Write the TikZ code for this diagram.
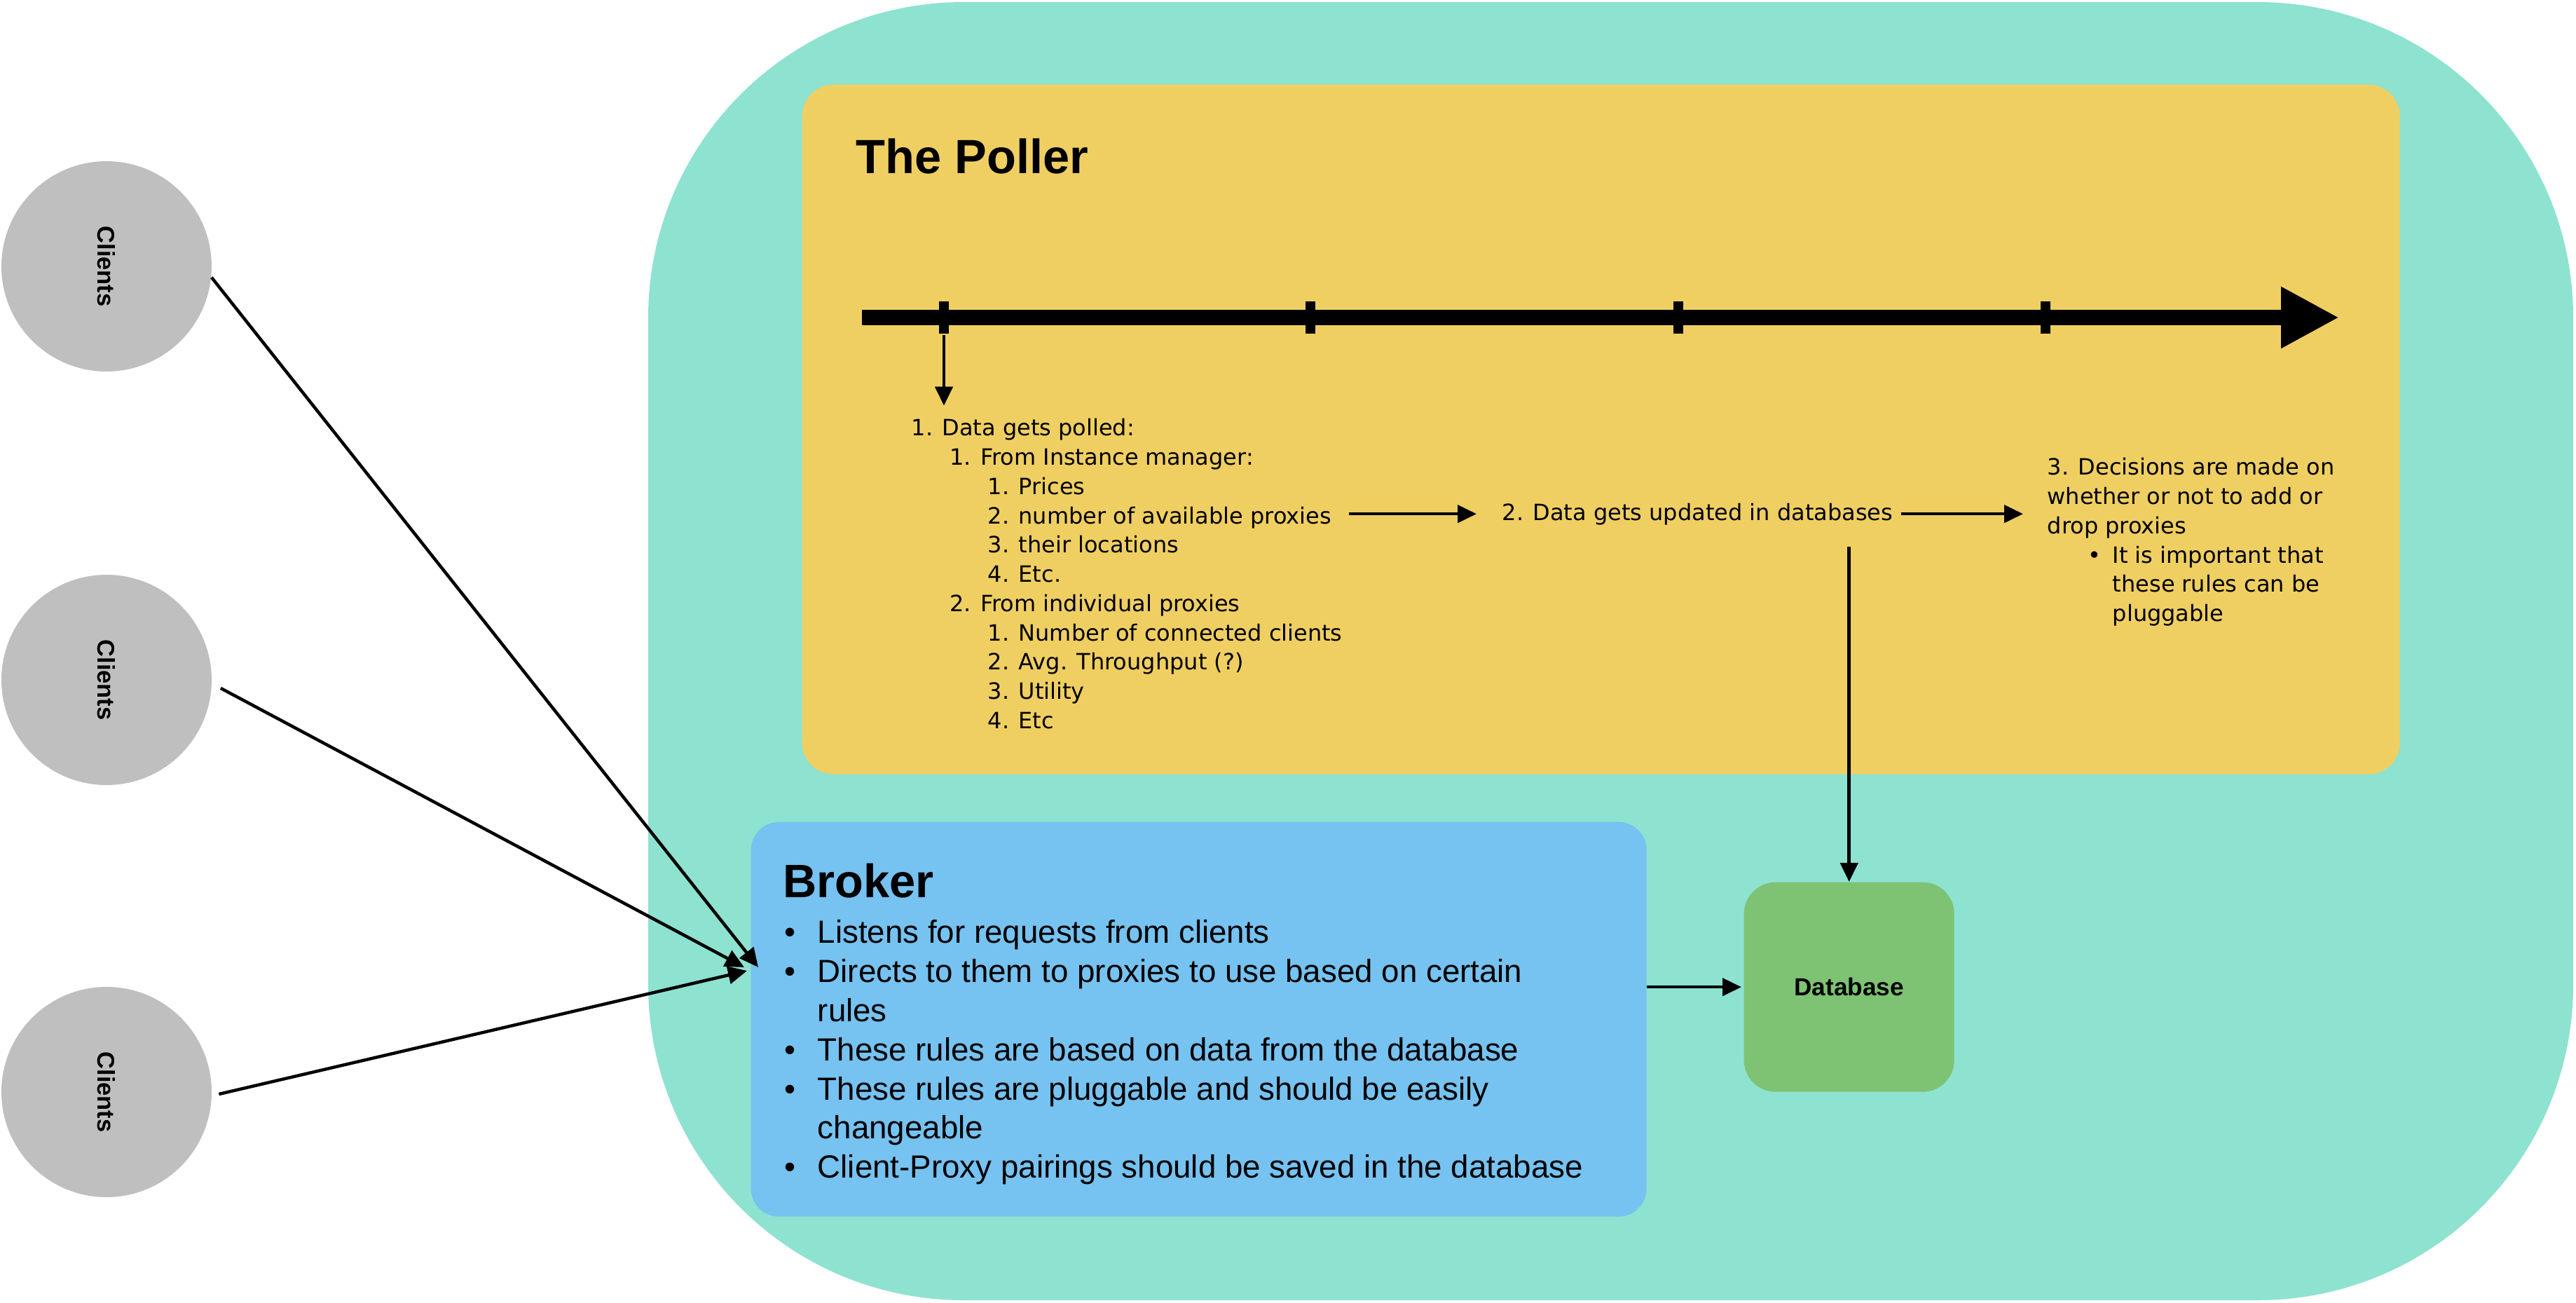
\documentclass[tikz,border=0pt]{standalone}
\usepackage{fontspec}
\setmainfont{Liberation Sans}
\newfontfamily\pollfont{DejaVu Sans}
\usetikzlibrary{arrows.meta}
\definecolor{outer}{RGB}{142,226,208}
\definecolor{pollbg}{RGB}{239,207,98}
\definecolor{brokerbg}{RGB}{118,194,240}
\definecolor{dbbg}{RGB}{125,195,115}
\definecolor{clientbg}{RGB}{191,191,191}

\begin{document}
\begin{tikzpicture}
			\def \pad{ 0.13cm };
			\tikzset{
				arr/.style={line width=0.045cm, -{Triangle[length=0.27cm,width=0.25cm]}},
				box/.style={rounded corners=0.45cm, inner sep=0, anchor=north west},
				client/.style={circle, fill=clientbg, minimum size=3cm, inner sep=0, font=\bfseries\fontsize{9.8}{12}\selectfont},
				lst/.style={inner sep=0, anchor=north west},
				small/.style={font=\pollfont\fontsize{9.1}{11.89}\selectfont}
			}
			\useasboundingbox (0,0) rectangle (36.76,-18.58);
			\fill[outer, rounded corners=4.5cm] (9.25,-0.03) rectangle (36.72,-18.55);
			\node[box, fill=pollbg, minimum width=22.80cm, minimum height=9.84cm] (poller) at (11.44,-1.20) {};
			\node[box, fill=brokerbg, minimum width=12.78cm, minimum height=5.63cm, rounded corners=0.4cm] (broker) at (10.71,-11.72) {};
			\node[box, fill=dbbg, minimum width=3cm, minimum height=2.99cm, font=\bfseries\fontsize{10}{12}\selectfont] (db) at (24.88,-12.58) {Database};
			\node[client] (c1) at (1.52,-3.80) {\rotatebox{-90}{Clients}};
			\node[client] (c2) at (1.52,-9.70) {\rotatebox{-90}{Clients}};
			\node[client] (c3) at (1.52,-15.58) {\rotatebox{-90}{Clients}};
			\node[anchor=base west, inner sep=0, font=\bfseries\fontsize{19.5}{23}\selectfont] (ptitle) at (12.21,-2.47) {The Poller};
			\node[anchor=base west, inner sep=0, font=\bfseries\fontsize{19}{23}\selectfont] (btitle) at (11.17,-12.80) {Broker};
			\coordinate (ts) at (12.30,-4.53);
			\coordinate (te) at (33.38,-4.53);
			\coordinate (t1) at (13.47,-4.78);
			\coordinate (in) at (10.71,-13.80);
			\draw[line width=0.22cm, -{Triangle[length=0.83cm,width=0.82cm]}] (ts) -- (te);
			\foreach \x in {13.47,18.70,23.95,29.19}
				\draw[line width=0.14cm] (\x,-4.30) -- (\x,-4.76);
			\node[lst, small] (polled) at (13.00,-5.917) {\begin{tabular}{@{}l@{}}
				1. Data gets polled:\\
				\hspace{15.5pt}1. From Instance manager:\\
				\hspace{31pt}1. Prices\\
				\hspace{31pt}2. number of available proxies\\
				\hspace{31pt}3. their locations\\
				\hspace{31pt}4. Etc.\\
				\hspace{15.5pt}2. From individual proxies\\
				\hspace{31pt}1. Number of connected clients\\
				\hspace{31pt}2. Avg. Throughput (?)\\
				\hspace{31pt}3. Utility\\
				\hspace{31pt}4. Etc
			\end{tabular}};
			\node[anchor=base west, inner sep=0, small] (upd) at (21.43,-7.42) {2. Data gets updated in databases};
			\node[lst, small] (decide) at (29.21,-6.477) {\begin{tabular}{@{}l@{}l@{}}
				\multicolumn{2}{@{}l@{}}{3. Decisions are made on}\\
				\multicolumn{2}{@{}l@{}}{whether or not to add or}\\
				\multicolumn{2}{@{}l@{}}{drop proxies}\\
				\makebox[26.5pt][r]{\textbullet\hspace{4.7pt}} & It is important that\\
				& these rules can be\\
				& pluggable
			\end{tabular}};
			\node[lst, font=\fontsize{13}{15.88}\selectfont] (brules) at (11.19,-13.06) {\begin{tabular}{@{}l@{}l@{}}
				\makebox[13.4pt][l]{\textbullet} & Listens for requests from clients\\
				\textbullet & Directs to them to proxies to use based on certain\\
				& rules\\
				\textbullet & These rules are based on data from the database\\
				\textbullet & These rules are pluggable and should be easily\\
				& changeable\\
				\textbullet & Client-Proxy pairings should be saved in the database
			\end{tabular}};
			\draw[arr, shorten >=\pad] (t1) -- (t1 |- polled.north);
			\draw[arr, shorten <=0.09cm, shorten >=0.36cm] (polled.east |- upd.west) -- (upd.west);
			\draw[arr, shorten <=0.11cm, shorten >=0.34cm] (upd.east) -- (upd.east -| decide.west);
			\draw[arr, shorten <=0.31cm] (db.north |- upd.south) -- (db.north);
			\draw[arr, shorten >=0.03cm] (broker.east |- db.west) -- (db.west);
			\draw[arr] (c1.-6) -- ([xshift=0.11cm]in);
			\draw[arr, shorten <=0.14cm] (c2.-2) -- ([xshift=-0.09cm]in);
			\draw[arr, shorten <=0.1cm] (c3.-2) -- ([xshift=-0.05cm,yshift=-0.05cm]in);
		\end{tikzpicture}
\end{document}
